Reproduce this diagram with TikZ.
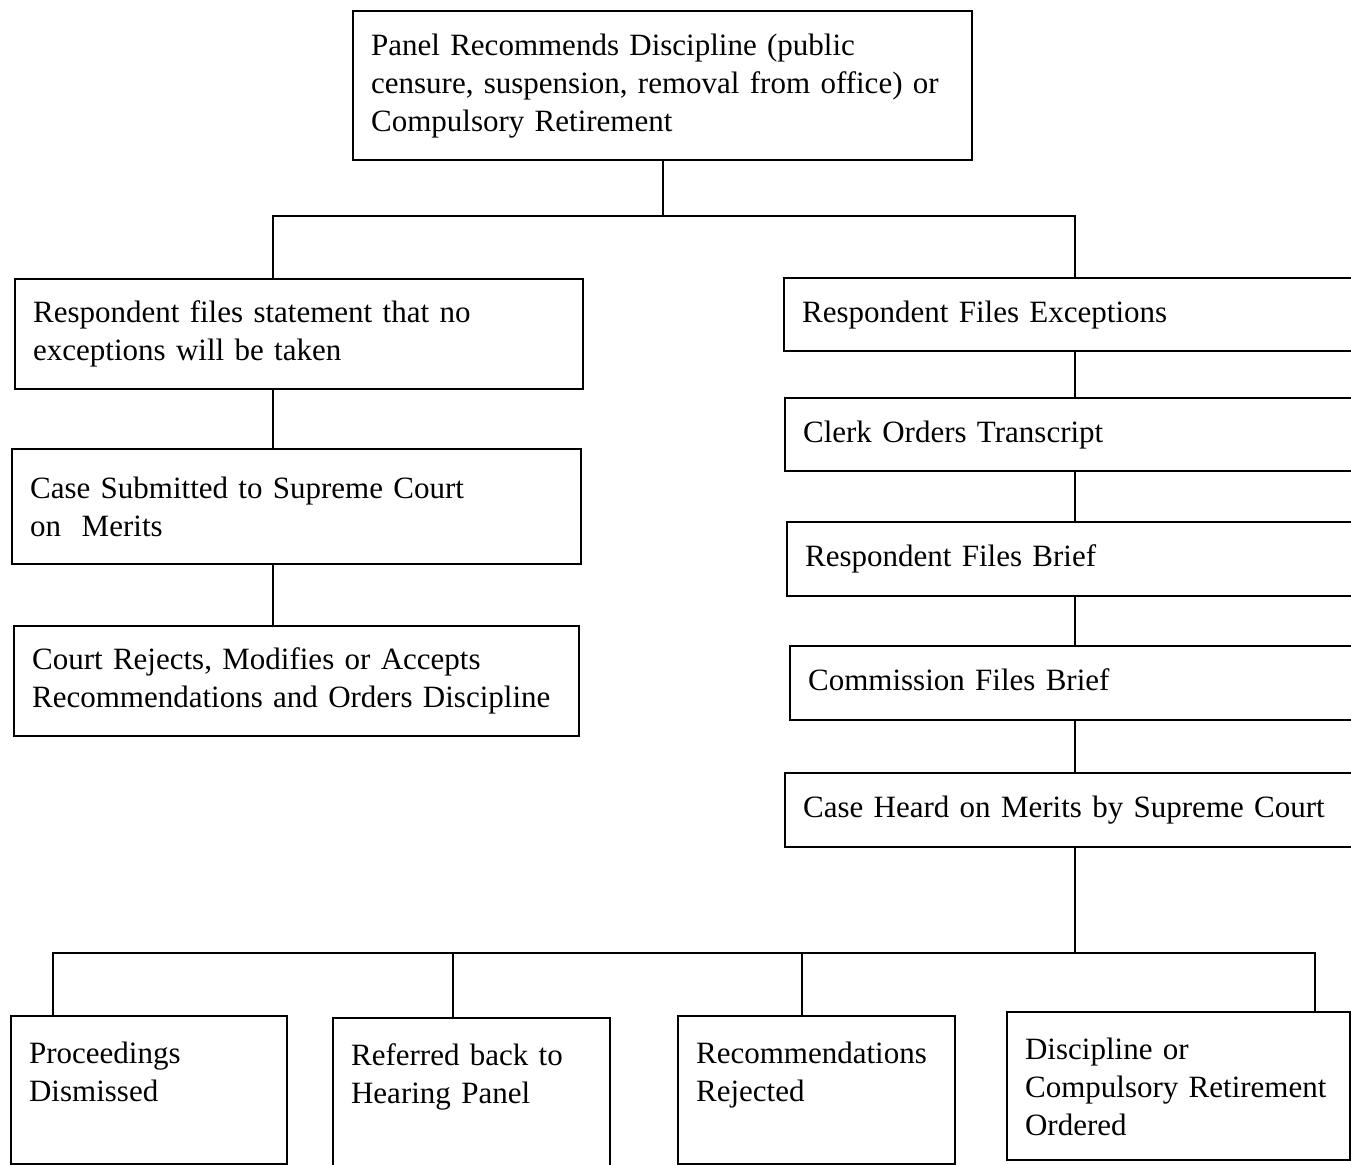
\documentclass[tikz,border=0pt]{standalone}
\usepackage{fontspec}
\setmainfont{Liberation Serif}
\hyphenpenalty=10000
\tikzset{
  box/.style={draw, line width=1.1pt, anchor=north west, align=left,
    inner xsep=9pt, inner ysep=0pt, text height=11pt,
    font=\fontsize{15.5}{19}\selectfont},
  oneline/.style={box, text depth=3.5pt},
  leaf/.style={box, text height=23.5pt, text depth=50.5pt},
  link/.style={line width=1.1pt}
}
\begin{document}
\begin{tikzpicture}[x=0.5pt,y=-0.5pt]
      \useasboundingbox (0,0) rectangle (1351,1165);
      \clip (0,0) rectangle (1351,1165);
      \node[box, minimum width=309.5pt, minimum height=74.5pt, text width=291.5pt] (panel) at (352,10)
        {Panel Recommends Discipline (public\\censure, suspension, removal from office) or\\Compulsory Retirement};
      \node[box, minimum width=284pt, minimum height=55pt, text width=266pt] (nostmt) at (14,278)
        {Respondent files statement that no\\exceptions will be taken};
      \node[box, minimum width=284.5pt, minimum height=57.5pt, text width=266.5pt] (submit) at (11,448)
        {Case Submitted to Supreme Court\\on\ \ Merits};
      \node[box, minimum width=282.5pt, minimum height=55pt, text width=264.5pt] (court) at (13,625)
        {Court Rejects, Modifies or Accepts\\Recommendations and Orders Discipline};
      \node[oneline, minimum width=288.5pt, minimum height=36.5pt, text width=270.5pt] (exceptions) at (783,277)
        {Respondent Files Exceptions};
      \node[oneline, minimum width=288pt, minimum height=36.5pt, text width=270pt] (clerk) at (784,397)
        {Clerk Orders Transcript};
      \node[oneline, minimum width=287pt, minimum height=37pt, text width=269pt] (rbrief) at (786,521)
        {Respondent Files Brief};
      \node[oneline, minimum width=285.5pt, minimum height=37pt, text width=267.5pt] (cbrief) at (789,645)
        {Commission Files Brief};
      \node[oneline, minimum width=288pt, minimum height=37pt, text width=270pt] (heard) at (784,772)
        {Case Heard on Merits by Supreme Court};
      \node[leaf, minimum width=138pt, text width=120pt] (dismiss) at (10,1015)
        {Proceedings\\Dismissed};
      \node[leaf, minimum width=138.5pt, text width=120.5pt] (referred) at (332,1017)
        {Referred back to\\Hearing Panel};
      \node[leaf, minimum width=138.5pt, text width=120.5pt] (rejected) at (677,1015)
        {Recommendations\\Rejected};
      \node[leaf, minimum width=171.5pt, text width=153.5pt] (ordered) at (1006,1011)
        {Discipline or\\Compulsory~Retirement\\Ordered};
      \coordinate (forkL) at (273,216);
      \coordinate (forkR) at (1075,216);
      \coordinate (busL) at (53,953);
      \coordinate (busB) at (453,953);
      \coordinate (busC) at (802,953);
      \coordinate (busR) at (1315,953);
      \draw[link] (panel.south) -- (panel.south |- forkL);
      \draw[link] (forkL |- nostmt.north) -- (forkL) -- (forkR) -- (forkR |- exceptions.north);
      \draw[link] (forkL |- nostmt.south) -- (forkL |- submit.north);
      \draw[link] (forkL |- submit.south) -- (forkL |- court.north);
      \foreach \a/\b in {exceptions/clerk, clerk/rbrief, rbrief/cbrief, cbrief/heard}
        \draw[link] (forkR |- \a.south) -- (forkR |- \b.north);
      \draw[link] (forkR |- heard.south) -- (forkR |- busL);
      \draw[link] (busL |- dismiss.north) -- (busL) -- (busR) -- (busR |- ordered.north);
      \draw[link] (busB) -- (busB |- referred.north);
      \draw[link] (busC) -- (busC |- rejected.north);
\end{tikzpicture}
\end{document}
